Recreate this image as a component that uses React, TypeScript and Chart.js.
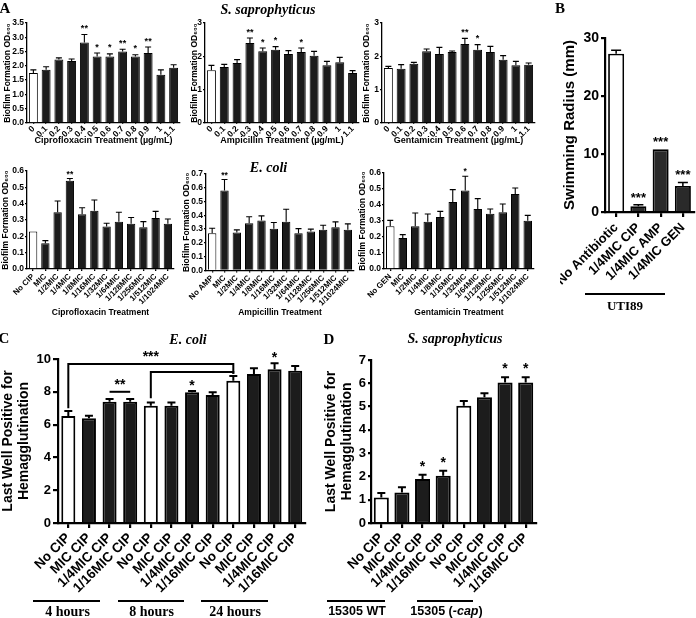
import React, { useEffect, useRef } from 'react';
import { Chart, registerables } from 'chart.js';

Chart.register(...registerables);

const SANS = "'Liberation Sans', Arial, sans-serif";
const SERIF = "'Liberation Serif', 'Times New Roman', serif";
Chart.defaults.font.family = SANS;
Chart.defaults.color = '#000';

// ---------------- DATA ----------------
// Panel A, S. saprophyticus (µg/mL)
const concLabels = ['0', '0.1', '0.2', '0.3', '0.4', '0.5', '0.6', '0.7', '0.8', '0.9', '1', '1.1'];
const ssCipValues = [1.75, 1.86, 2.22, 2.17, 2.82, 2.33, 2.33, 2.5, 2.33, 2.45, 1.69, 1.93];
const ssCipErrors = [0.11, 0.11, 0.06, 0.07, 0.28, 0.12, 0.09, 0.08, 0.06, 0.21, 0.17, 0.11];
const ssCipStars = ['', '', '', '', '**', '*', '*', '**', '*', '**', '', ''];
const ssAmpValues = [1.58, 1.68, 1.8, 2.4, 2.15, 2.2, 2.07, 2.13, 2.02, 1.73, 1.82, 1.5];
const ssAmpErrors = [0.15, 0.08, 0.1, 0.15, 0.1, 0.09, 0.1, 0.12, 0.13, 0.12, 0.15, 0.07];
const ssAmpStars = ['', '', '', '**', '*', '*', '', '*', '', '', '', ''];
const ssGenValues = [1.65, 1.63, 1.78, 2.15, 2.07, 2.13, 2.37, 2.2, 2.13, 1.9, 1.73, 1.75];
const ssGenErrors = [0.05, 0.12, 0.04, 0.07, 0.2, 0.03, 0.17, 0.15, 0.17, 0.12, 0.12, 0.05];
const ssGenStars = ['', '', '', '', '', '', '**', '*', '', '', '', ''];

// Panel A, E. coli (fractions of MIC)
const micLabels = ['MIC', '1/2MIC', '1/4MIC', '1/8MIC', '1/16MIC', '1/32MIC', '1/64MIC', '1/128MIC', '1/256MIC', '1/512MIC', '1/1024MIC'];
const ecCipLabels = ['No CIP', ...micLabels];
const ecCipValues = [0.229, 0.158, 0.347, 0.54, 0.335, 0.357, 0.26, 0.29, 0.277, 0.256, 0.313, 0.277];
const ecCipErrors = [0, 0.016, 0.069, 0.014, 0.04, 0.065, 0.02, 0.057, 0.038, 0.034, 0.04, 0.029];
const ecCipStars = ['', '', '', '**', '', '', '', '', '', '', '', ''];
const ecAmpLabels = ['No AMP', ...micLabels];
const ecAmpValues = [0.27, 0.58, 0.275, 0.343, 0.362, 0.302, 0.353, 0.27, 0.283, 0.295, 0.314, 0.295];
const ecAmpErrors = [0.037, 0.08, 0.02, 0.047, 0.034, 0.046, 0.091, 0.034, 0.017, 0.033, 0.039, 0.043];
const ecAmpStars = ['', '**', '', '', '', '', '', '', '', '', '', ''];
const ecGenLabels = ['No GEN', ...micLabels];
const ecGenValues = [0.267, 0.194, 0.267, 0.296, 0.325, 0.419, 0.49, 0.375, 0.346, 0.354, 0.469, 0.302];
const ecGenErrors = [0.037, 0.021, 0.083, 0.048, 0.035, 0.077, 0.09, 0.065, 0.029, 0.052, 0.037, 0.033];
const ecGenStars = ['', '', '', '', '', '', '*', '', '', '', '', ''];

// Panel B, swimming
const swimLabels = ['No Antibiotic', '1/4MIC CIP', '1/4MIC AMP', '1/4MIC GEN'];
const swimValues = [27.3, 1.0, 10.8, 4.5];
const swimErrors = [0.6, 0.25, 0, 0.6];
const swimStars = ['', '***', '***', '***'];

// Panel C, E. coli hemagglutination
const hemaLabels = ['No CIP', 'MIC CIP', '1/4MIC CIP', '1/16MIC CIP'];
const ecHemaLabels = [...hemaLabels, ...hemaLabels, ...hemaLabels];
const ecHemaValues = [6.52, 6.38, 7.4, 7.4, 7.15, 7.15, 7.97, 7.8, 8.68, 9.08, 9.37, 9.29];
const ecHemaErrors = [0.31, 0.16, 0.16, 0.16, 0.19, 0.19, 0.08, 0.17, 0.28, 0.35, 0.37, 0.28];
const ecHemaStars = ['', '', '', '', '', '', '*', '', '', '', '*', ''];
const ecHemaBrackets = [
  { from: 0, to: 8, level: 9.7, leftEnd: 7.0, rightEnd: 9.1, label: '***' },
  { from: 4, to: 8, level: 9.2, leftEnd: 7.6, rightEnd: 9.1, label: '' },
  { from: 2, to: 3, level: 8.0, leftEnd: 8.0, rightEnd: 8.0, label: '**' },
];

// Panel D, S. saprophyticus hemagglutination
const ssHemaLabels = [...hemaLabels, ...hemaLabels];
const ssHemaValues = [1.1, 1.31, 1.89, 2.03, 5.03, 5.4, 6.03, 6.03];
const ssHemaErrors = [0.19, 0.23, 0.18, 0.21, 0.21, 0.17, 0.23, 0.23];
const ssHemaStars = ['', '', '*', '*', '', '', '*', '*'];

// ---------------- STYLES / LAYOUT ----------------
const DARK = '#1c1c1c';
const WHITE = '#ffffff';
const fillsWhiteAt = (n: number, whites: number[], dark = DARK) =>
  Array.from({ length: n }, (_, i) => (whites.includes(i) ? WHITE : dark));

const OD = 'Biofilm Formation OD\u2086\u2080\u2080';

const rowStyle1 = {
  yTickSize: 8.5, yTickLen: 2, yTickPad: 1, xTickSize: 8.5, xTickLen: 1, xTickPad: 0,
  barPct: 0.7, barBorder: 1, axisW: 1.3, errW: 1.1, capHalf: 3, starSize: 9, starGap: 3.5,
  yTitleSize: 8.5, yTitleLH: 1.2, xTitleSize: 9, xTitleCy: 140.5, yTitle: OD,
};
const rowStyle2 = {
  ...rowStyle1, xTickSize: 8, xTickLen: 2, xTickPad: 1, xTitleSize: 8.5, xTitleCy: 313,
  barPct: 0.68, starSize: 8.5, starGap: 2,
};
const hemaStyle = {
  yTitle: ['Last Well Positive for', 'Hemagglutination'], yTitleSize: 14, yTitleLH: 1.15,
  yTickSize: 13, yTickLen: 5, yTickPad: 2, xTickSize: 13.5, xTickLen: 5, xTickPad: 2,
  barBorder: 2, axisW: 2.2, errW: 2, capHalf: 4, starSize: 14, bracketW: 2, bracketGap: 2.5,
};

const panels: any[] = [
  { id: 'a1', canvas: [2, 15, 184, 147], area: [27, 23, 180, 123], ...rowStyle1, yTitleCx: 8,
    labels: concLabels, values: ssCipValues, errors: ssCipErrors, stars: ssCipStars,
    fills: fillsWhiteAt(12, [0]), yMax: 3.5, yStep: 0.5, yDec: 1, xTitle: 'Ciprofloxacin Treatment (\u00b5g/mL)' },
  { id: 'a2', canvas: [189, 15, 363, 147], area: [205, 23, 359, 123], ...rowStyle1, yTitleCx: 194.5,
    labels: concLabels, values: ssAmpValues, errors: ssAmpErrors, stars: ssAmpStars,
    fills: fillsWhiteAt(12, [0]), yMax: 3, yStep: 1, yDec: 0, xTitle: 'Ampicillin Treatment (\u00b5g/mL)' },
  { id: 'a3', canvas: [361, 15, 539, 147], area: [382, 23, 535, 123], ...rowStyle1, yTitleCx: 367,
    labels: concLabels, values: ssGenValues, errors: ssGenErrors, stars: ssGenStars,
    fills: fillsWhiteAt(12, [0]), yMax: 3, yStep: 1, yDec: 0, xTitle: 'Gentamicin Treatment (\u00b5g/mL)' },
  { id: 'b1', canvas: [0, 163, 178, 320], area: [27, 171, 174, 269], ...rowStyle2, yTitleCx: 6,
    labels: ecCipLabels, values: ecCipValues, errors: ecCipErrors, stars: ecCipStars,
    fills: fillsWhiteAt(12, [0]), yMax: 0.6, yStep: 0.1, yDec: 1, xTitle: 'Ciprofloxacin Treatment' },
  { id: 'b2', canvas: [181, 163, 358, 320], area: [206, 174, 354, 270.5], ...rowStyle2, yTitleCx: 187,
    labels: ecAmpLabels, values: ecAmpValues, errors: ecAmpErrors, stars: ecAmpStars,
    fills: fillsWhiteAt(12, [0]), yMax: 0.7, yStep: 0.1, yDec: 1, xTitle: 'Ampicillin Treatment' },
  { id: 'b3', canvas: [357, 163, 538, 320], area: [384, 173, 534, 269], ...rowStyle2, yTitleCx: 363,
    labels: ecGenLabels, values: ecGenValues, errors: ecGenErrors, stars: ecGenStars,
    fills: fillsWhiteAt(12, [0]), yMax: 0.6, yStep: 0.1, yDec: 1, xTitle: 'Gentamicin Treatment' },
  { id: 'swim', canvas: [560, 30, 696, 316], area: [605, 38, 694, 212],
    yTitle: 'Swimming Radius (mm)', yTitleSize: 15, yTitleLH: 1.2, yTitleCx: 570,
    yTickSize: 14, yTickLen: 4, yTickPad: 2, xTickSize: 13, xTickLen: 5, xTickPad: 3,
    barPct: 0.72, barBorder: 1.8, axisW: 2.2, errW: 1.5, capHalf: 5, starSize: 13, starGap: 3,
    labels: swimLabels, values: swimValues, errors: swimErrors, stars: swimStars,
    fills: fillsWhiteAt(4, [0], '#2a2a2a'), yMax: 30, yStep: 10, yDec: 0 },
  { id: 'c', canvas: [0, 345, 310, 618], area: [58, 359, 305.5, 523], ...hemaStyle, yTitleCx: 8,
    barPct: 0.68, starGap: 1, brackets: ecHemaBrackets,
    labels: ecHemaLabels, values: ecHemaValues, errors: ecHemaErrors, stars: ecHemaStars,
    fills: fillsWhiteAt(12, [0, 4, 8]), yMax: 10, yStep: 2, yDec: 0 },
  { id: 'd', canvas: [323, 346, 540, 618], area: [371, 360, 536, 523], ...hemaStyle, yTitleCx: 331,
    yTickLen: 3, barPct: 0.73, starGap: 4,
    labels: ssHemaLabels, values: ssHemaValues, errors: ssHemaErrors, stars: ssHemaStars,
    fills: fillsWhiteAt(8, [0, 4]), yMax: 7, yStep: 1, yDec: 0 },
];

function buildChart(canvas: HTMLCanvasElement, p: any) {
  const [cl, ct, cr, cb] = p.canvas;
  const [al, at, ar, ab] = p.area;
  const yw = al - cl;
  const xh = cb - ab;
  const padTop = at - ct;
  const padRight = cr - ar;
  const yLH = p.yTitleSize * p.yTitleLH;
  const yTitlePad = Math.max(0, p.yTitleCx - cl - yLH / 2);
  const xLH = (p.xTitleSize || 10) * 1.2;
  const xTitlePad = p.xTitleCy ? Math.max(0, cb - p.xTitleCy - xLH / 2) : 0;

  const overlay = {
    id: 'overlay_' + p.id,
    afterDatasetsDraw(chart: any) {
      const ctx = chart.ctx;
      const ys = chart.scales.y;
      const xs = chart.scales.x;
      const meta = chart.getDatasetMeta(0);
      ctx.save();
      ctx.strokeStyle = '#000';
      ctx.fillStyle = '#000';
      ctx.lineWidth = p.errW;
      meta.data.forEach((el: any, i: number) => {
        const v = p.values[i];
        const e = p.errors[i];
        const x = el.x;
        const yv = ys.getPixelForValue(v);
        const ye = ys.getPixelForValue(v + e);
        if (e > 0) {
          ctx.beginPath();
          ctx.moveTo(x, yv);
          ctx.lineTo(x, ye);
          ctx.moveTo(x - p.capHalf, ye);
          ctx.lineTo(x + p.capHalf, ye);
          ctx.stroke();
        }
        if (p.stars[i]) {
          ctx.font = `bold ${p.starSize}px ${SANS}`;
          ctx.textAlign = 'center';
          ctx.textBaseline = 'alphabetic';
          ctx.fillText(p.stars[i], x, ye - p.starGap);
        }
      });
      (p.brackets || []).forEach((b: any) => {
        const x1 = xs.getPixelForValue(b.from);
        const x2 = xs.getPixelForValue(b.to);
        const yl = ys.getPixelForValue(b.level);
        ctx.lineWidth = p.bracketW;
        ctx.lineJoin = 'miter';
        ctx.beginPath();
        ctx.moveTo(x1, ys.getPixelForValue(b.leftEnd));
        ctx.lineTo(x1, yl);
        ctx.lineTo(x2, yl);
        ctx.lineTo(x2, ys.getPixelForValue(b.rightEnd));
        ctx.stroke();
        if (b.label) {
          ctx.font = `bold ${p.starSize}px ${SANS}`;
          ctx.textAlign = 'center';
          ctx.textBaseline = 'alphabetic';
          ctx.fillText(b.label, (x1 + x2) / 2, yl - p.bracketGap);
        }
      });
      ctx.restore();
    },
  };

  return new Chart(canvas, {
    type: 'bar',
    data: {
      labels: p.labels,
      datasets: [
        {
          data: p.values,
          backgroundColor: p.fills,
          borderColor: '#000',
          borderWidth: p.barBorder,
          borderSkipped: 'start',
          barPercentage: p.barPct,
          categoryPercentage: 1,
        },
      ],
    },
    options: {
      responsive: false,
      animation: false,
      devicePixelRatio: 1,
      events: [],
      layout: { padding: { left: 0, top: padTop, right: padRight, bottom: 0 } },
      plugins: { legend: { display: false }, tooltip: { enabled: false } },
      scales: {
        x: {
          type: 'category',
          offset: true,
          grid: {
            display: true, drawOnChartArea: false, drawTicks: true, tickLength: p.xTickLen,
            offset: false, color: '#000', lineWidth: p.axisW,
          },
          border: { display: true, color: '#000', width: p.axisW },
          ticks: {
            autoSkip: false, minRotation: 45, maxRotation: 45, padding: p.xTickPad,
            font: { size: p.xTickSize, weight: 'bold', family: SANS }, color: '#000',
          },
          title: p.xTitle
            ? {
                display: true, text: p.xTitle, color: '#000',
                font: { size: p.xTitleSize, weight: 'bold', family: SANS, lineHeight: 1.2 },
                padding: { top: 0, bottom: xTitlePad },
              }
            : { display: false },
          afterFit: (s: any) => {
            s.height = xh;
            s.paddingLeft = 0;
            s.paddingRight = 0;
          },
        },
        y: {
          type: 'linear',
          min: 0,
          max: p.yMax,
          ticks: {
            stepSize: p.yStep, padding: p.yTickPad, color: '#000',
            font: { size: p.yTickSize, weight: 'bold', family: SANS },
            callback: (v: any) => Number(v).toFixed(p.yDec),
          },
          grid: {
            display: true, drawOnChartArea: false, drawTicks: true, tickLength: p.yTickLen,
            color: '#000', lineWidth: p.axisW,
          },
          border: { display: true, color: '#000', width: p.axisW },
          title: {
            display: true, text: p.yTitle, color: '#000',
            font: { size: p.yTitleSize, weight: 'bold', family: SANS, lineHeight: p.yTitleLH },
            padding: { top: yTitlePad, bottom: 0 },
          },
          afterFit: (s: any) => {
            s.width = yw;
            s.paddingTop = 0;
            s.paddingBottom = 0;
          },
        },
      },
    } as any,
    plugins: [overlay],
  } as any);
}

function ChartCanvas({ p }: { p: any }) {
  const ref = useRef<HTMLCanvasElement | null>(null);
  useEffect(() => {
    if (!ref.current) return;
    const chart = buildChart(ref.current, p);
    return () => chart.destroy();
  }, [p]);
  const [l, t, r, b] = p.canvas;
  return (
    <canvas
      ref={ref}
      width={r - l}
      height={b - t}
      style={{ position: 'absolute', left: l, top: t, width: r - l, height: b - t }}
    />
  );
}

function Txt(props: {
  x: number; y: number; size: number; family?: string; italic?: boolean; children: any;
}) {
  const { x, y, size, family = SERIF, italic = false, children } = props;
  return (
    <div
      style={{
        position: 'absolute', left: x, top: y, transform: 'translate(-50%, -50%)',
        fontFamily: family, fontWeight: 'bold', fontStyle: italic ? 'italic' : 'normal',
        fontSize: size, lineHeight: 1, whiteSpace: 'nowrap', color: '#000',
      }}
    >
      {children}
    </div>
  );
}

function HLine({ x1, x2, y, w = 2 }: { x1: number; x2: number; y: number; w?: number }) {
  return (
    <div style={{ position: 'absolute', left: x1, top: y - w / 2, width: x2 - x1, height: w, background: '#000' }} />
  );
}

export default function App() {
  return (
    <div style={{ position: 'absolute', left: 0, top: 0, width: 696, height: 618, background: '#fff', overflow: 'hidden' }}>
      {panels.map((p) => (
        <ChartCanvas key={p.id} p={p} />
      ))}
      <Txt x={5} y={8} size={15}>A</Txt>
      <Txt x={560} y={8} size={15}>B</Txt>
      <Txt x={4} y={338} size={15}>C</Txt>
      <Txt x={329} y={339} size={15}>D</Txt>
      <Txt x={268} y={10} size={14} italic>S. saprophyticus</Txt>
      <Txt x={268.5} y={168} size={14} italic>E. coli</Txt>
      <Txt x={188} y={340} size={14} italic>E. coli</Txt>
      <Txt x={455} y={339} size={14} italic>S. saprophyticus</Txt>

      <HLine x1={585} x2={665} y={294} />
      <Txt x={625} y={305} size={13}>UTI89</Txt>

      <HLine x1={33} x2={100} y={600.7} />
      <HLine x1={118} x2={184} y={600.7} />
      <HLine x1={201} x2={268} y={600.7} />
      <Txt x={67.5} y={612} size={14}>4 hours</Txt>
      <Txt x={151.5} y={612} size={14}>8 hours</Txt>
      <Txt x={235} y={612} size={14}>24 hours</Txt>

      <HLine x1={327} x2={385} y={600.7} />
      <HLine x1={417} x2={473} y={600.7} />
      <Txt x={357} y={611} size={12.5} family={SANS}>15305 WT</Txt>
      <Txt x={446.5} y={611} size={12.5} family={SANS}>
        15305 (<i>-cap</i>)
      </Txt>
    </div>
  );
}
